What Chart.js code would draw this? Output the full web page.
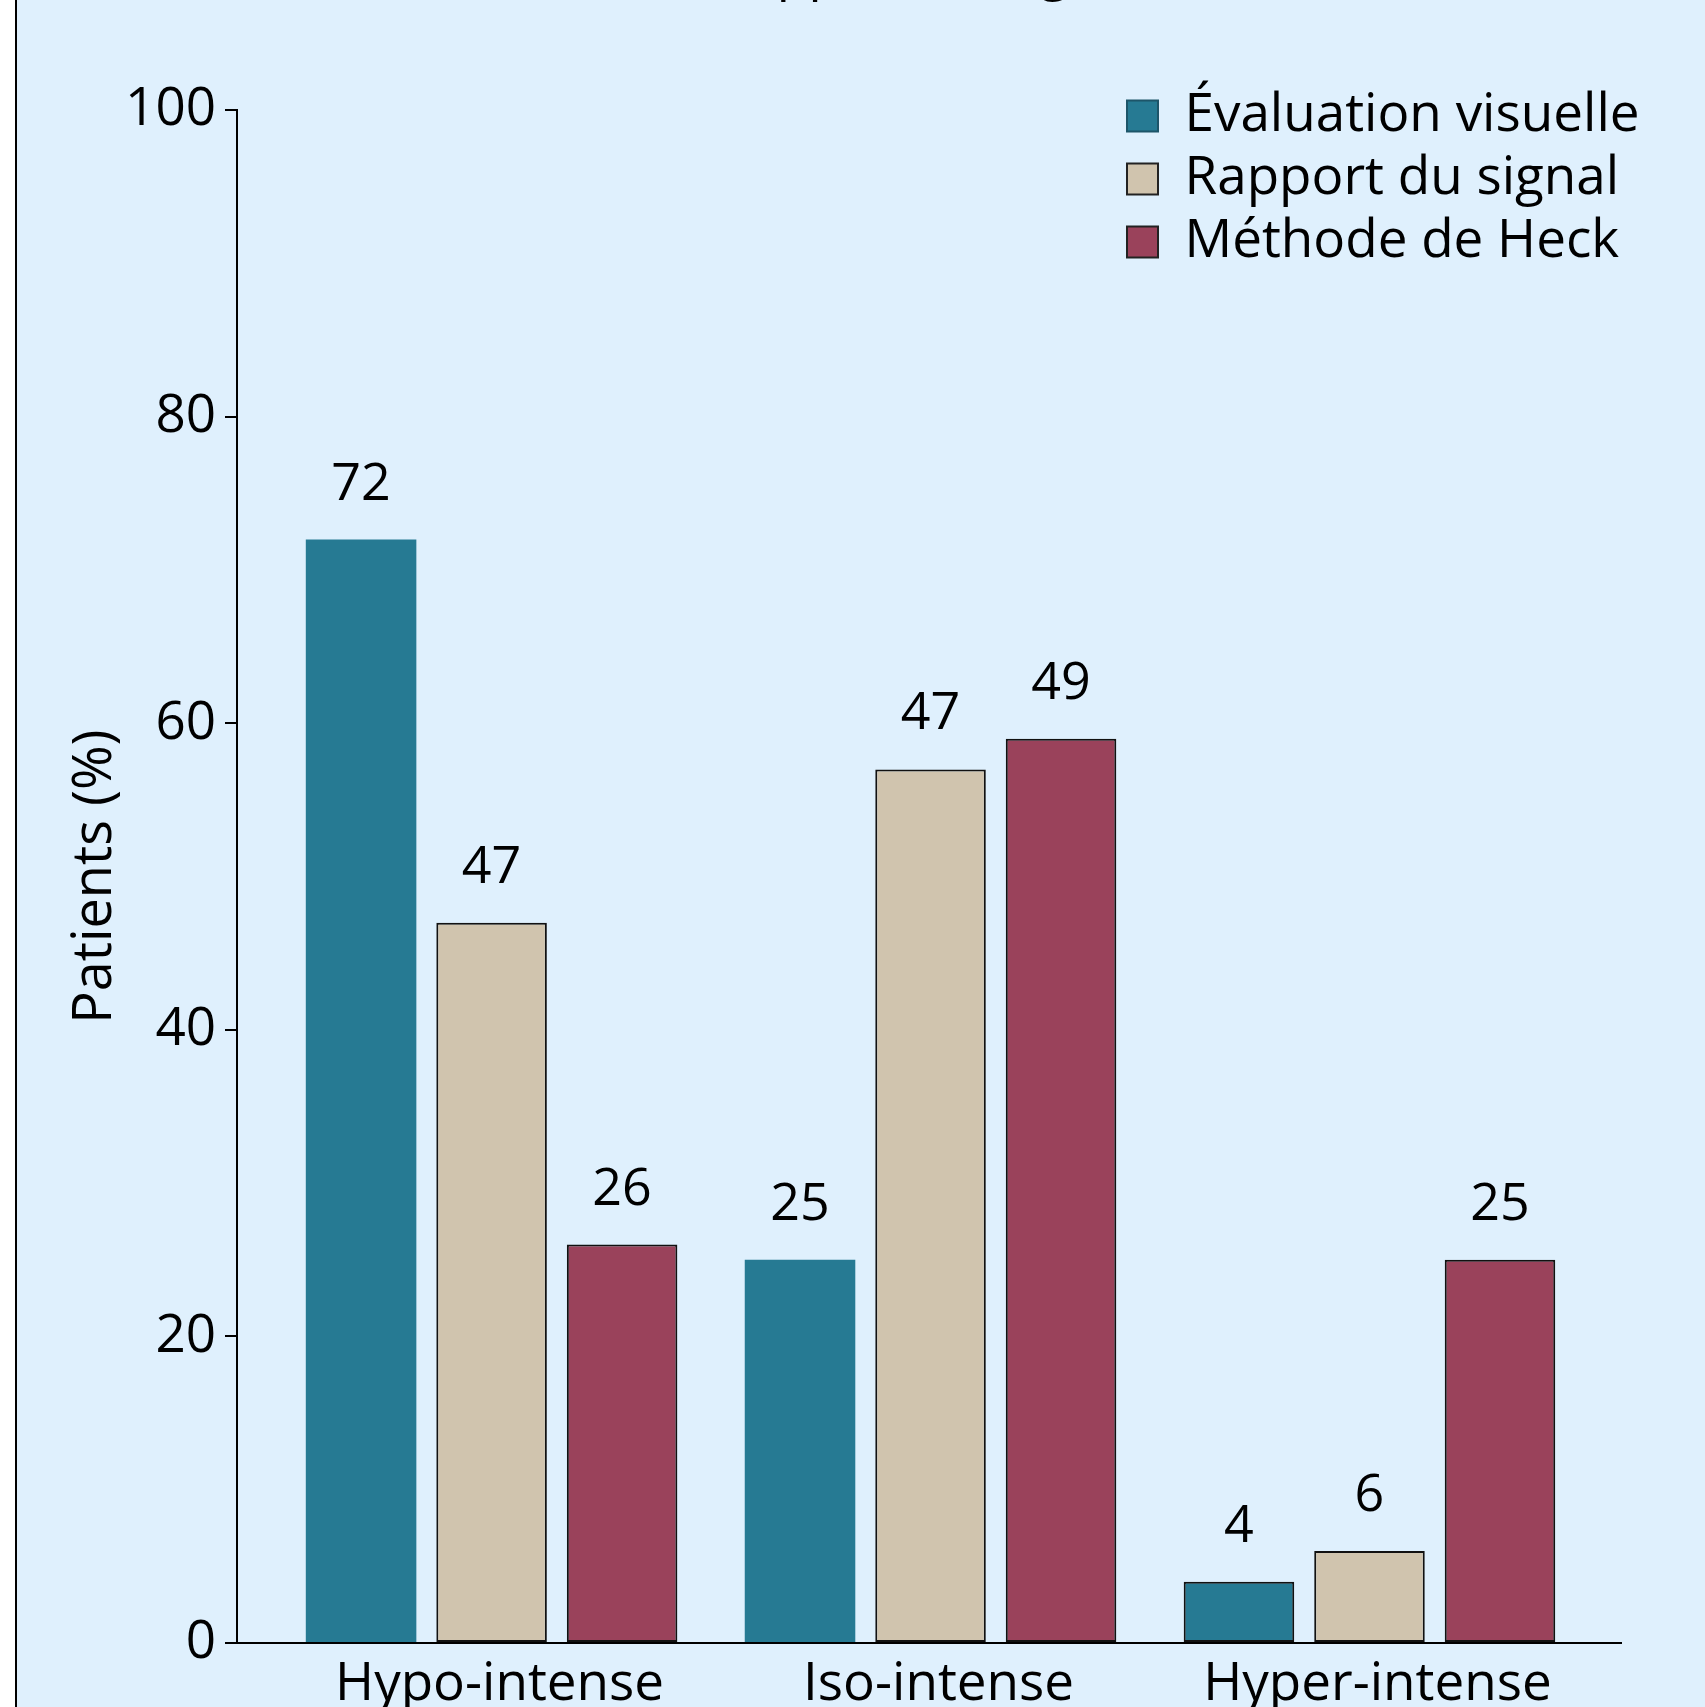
<!DOCTYPE html>
<html><head><meta charset="utf-8">
<script src="https://cdn.jsdelivr.net/npm/chart.js@4.4.1/dist/chart.umd.min.js"></script>
<style>
html,body{margin:0;padding:0;background:#fff;overflow:hidden;width:1705px;height:1707px;}
#frame{position:absolute;left:15px;top:-100px;width:2000px;height:2000px;border:2px solid #000;background:#dff0fd;box-sizing:border-box;}
#c{position:absolute;left:17px;top:-56px;}
</style></head><body>
<div id="frame"></div>
<canvas id="c" width="1690" height="1799"></canvas>
<script>
// ---- data ----
const categories = ['Hypo-intense', 'Iso-intense', 'Hyper-intense'];
const seriesNames = ['Évaluation visuelle', 'Rapport du signal', 'Méthode de Heck'];
const evaluationVisuelle = [72, 25, 4];
const rapportDuSignal = [47, 57, 6];
const methodeDeHeck = [26, 59, 25];
// printed labels above the bars (as shown in the figure)
const labelsEvaluation = ['72', '25', '4'];
const labelsRapport = ['47', '47', '6'];
const labelsHeck = ['26', '49', '25'];
const yTicks = [0, 20, 40, 60, 80, 100];
const chartTitle = 'Rapport du signal';
const yAxisTitle = 'Patients (%)';

// ---- styles ----
const FONT = "'Open Sans', 'Noto Sans', sans-serif";
const colors = ['#267a93', '#d0c4ae', '#9a425b'];
const legendStroke = ['#1d5569', '#222222', '#222222'];

const toPoints = arr => arr.map((v, i) => ({x: i, y: v}));

const datasets = [
  {label: seriesNames[0], data: toPoints(evaluationVisuelle), valueLabels: labelsEvaluation,
   backgroundColor: colors[0], borderColor: '#111', borderWidth: [0, 0, 2]},
  {label: seriesNames[1], data: toPoints(rapportDuSignal), valueLabels: labelsRapport,
   backgroundColor: colors[1], borderColor: '#111', borderWidth: 2},
  {label: seriesNames[2], data: toPoints(methodeDeHeck), valueLabels: labelsHeck,
   backgroundColor: colors[2], borderColor: '#111', borderWidth: 2}
];

const valueLabelPlugin = {
  id: 'valueLabelPlugin',
  afterDatasetsDraw(chart) {
    const ctx = chart.ctx;
    ctx.save();
    ctx.font = '52px ' + FONT;
    ctx.fillStyle = '#000';
    ctx.textAlign = 'center';
    ctx.textBaseline = 'alphabetic';
    chart.data.datasets.forEach((ds, di) => {
      chart.getDatasetMeta(di).data.forEach((bar, i) => {
        ctx.fillText(ds.valueLabels[i], bar.x, bar.y - 40);
      });
    });
    ctx.restore();
  }
};

const legendPlacer = {
  id: 'legendPlacer',
  afterLayout(chart) {
    const lg = chart.legend, ca = chart.chartArea;
    const w = lg.width, h = lg.height;
    lg.left = ca.right - 504; lg.right = lg.left + w;
    lg.top = ca.top - 31; lg.bottom = lg.top + h;
  }
};

new Chart(document.getElementById('c'), {
  type: 'bar',
  data: {datasets},
  options: {
    responsive: false,
    animation: false,
    events: [],
    layout: {padding: {left: 0, right: 86, top: 0, bottom: 0}},
    datasets: {bar: {categoryPercentage: 0.892, barPercentage: 0.847, borderSkipped: false}},
    plugins: {
      title: {display: true, text: chartTitle, fullSize: false, color: '#000',
              font: {family: FONT, size: 52, weight: 'normal'}, padding: {top: 0, bottom: 104}},
      legend: {
        position: 'chartArea',
        align: 'start',
        labels: {
          color: '#000', font: {family: FONT, size: 53}, boxWidth: 31, boxHeight: 31, padding: 10,
          generateLabels(chart) {
            const items = Chart.defaults.plugins.legend.labels.generateLabels(chart);
            items.forEach((it, i) => { it.fillStyle = colors[i]; it.strokeStyle = legendStroke[i]; it.lineWidth = 2; });
            return items;
          }
        }
      },
      tooltip: {enabled: false}
    },
    scales: {
      x: {
        type: 'linear', min: -0.58, max: 2.573, offset: false,
        afterBuildTicks: s => { s.ticks = categories.map((c, i) => ({value: i})); },
        afterFit: s => { s.height = 100; },
        border: {color: '#000', width: 2},
        grid: {drawOnChartArea: false, drawTicks: false, offset: false},
        ticks: {color: '#000', font: {family: FONT, size: 53}, padding: 10, maxRotation: 0,
                labelOffset: 8, callback: v => categories[v]}
      },
      y: {
        min: 0, max: 100,
        afterBuildTicks: s => { s.ticks = yTicks.map(v => ({value: v})); },
        afterFit: s => { s.width = 220; },
        border: {color: '#000', width: 2},
        grid: {drawOnChartArea: false, drawTicks: true, tickLength: 12, color: '#000', lineWidth: 2},
        ticks: {color: '#000', font: {family: FONT, size: 53}, padding: 9},
        title: {display: true, text: yAxisTitle, color: '#000', font: {family: FONT, size: 54},
                padding: {top: 46, bottom: 0}}
      }
    }
  },
  plugins: [valueLabelPlugin, legendPlacer]
});
</script>
</body></html>
